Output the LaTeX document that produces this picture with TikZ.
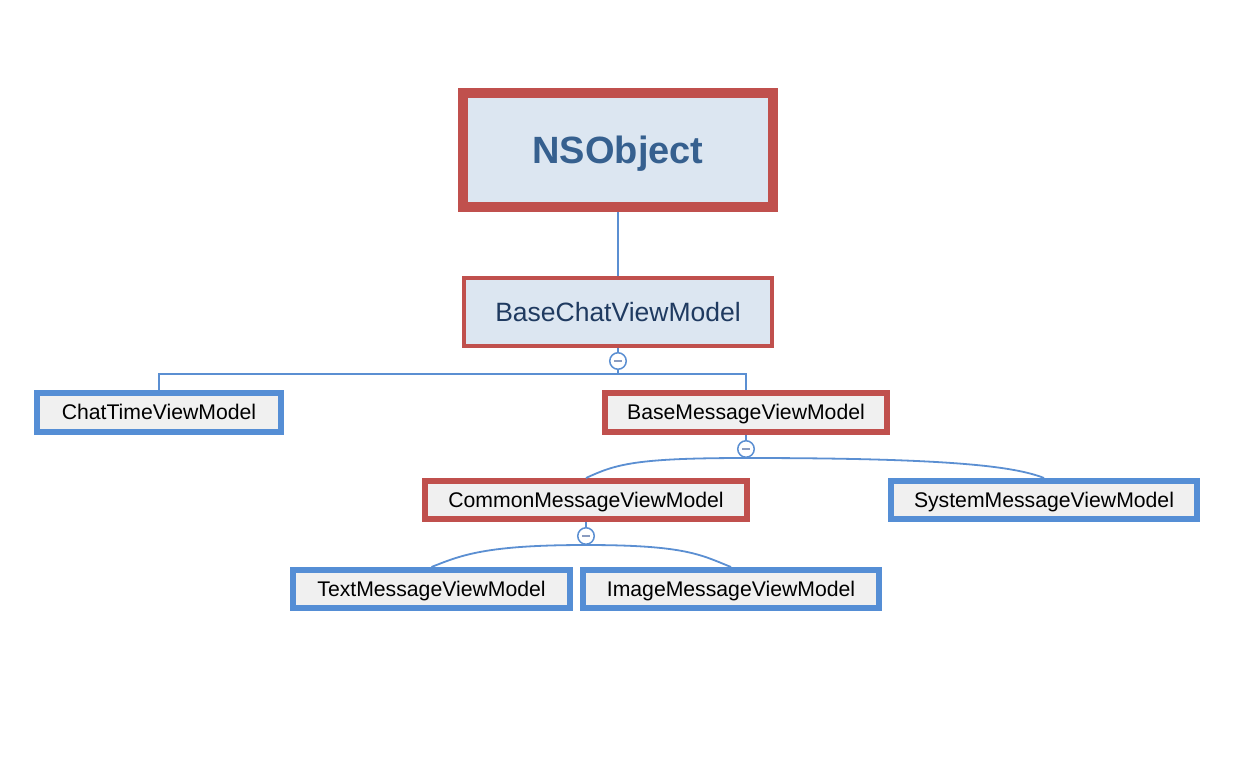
\documentclass[tikz,border=0pt]{standalone}
\usepackage{fontspec}
\setmainfont{Liberation Sans}
\definecolor{boxred}{HTML}{C0504D}
\definecolor{boxblue}{HTML}{558ED5}
\definecolor{boxgray}{HTML}{F0F0F0}
\definecolor{rootfill}{HTML}{DCE6F1}
\definecolor{linkblue}{HTML}{5B8FD2}
\definecolor{minusgray}{HTML}{8A9CC0}
\begin{document}
\begin{tikzpicture}[x=1pt,y=-1pt,
    redbox/.style={draw=boxred, line width=6pt, fill=boxgray, inner sep=0pt,
      text height=16.5pt, text depth=2pt, font=\fontsize{21.2}{25}\selectfont},
    bluebox/.style={redbox, draw=boxblue},
    link/.style={draw=linkblue, line width=1.8pt},
    fold/.style={circle, draw=linkblue, line width=1.5pt, fill=white,
      minimum size=16.5pt, inner sep=0pt,
      path picture={\draw[minusgray, line width=1.6pt]
        ([xshift=-4pt]path picture bounding box.center) --
        ([xshift=4pt]path picture bounding box.center);}}]
  \useasboundingbox[fill=white] (0,0) rectangle (1252,774);
  % classes
  \node[redbox, line width=10pt, fill=rootfill, minimum width=310pt, minimum height=114pt,
    text height=28pt, text depth=2pt, font=\fontsize{38}{44}\selectfont\bfseries]
    (nsobject) at (618,150) {\textcolor[HTML]{36608F}{NSObject}};
  \node[redbox, line width=4pt, fill=rootfill, minimum width=308pt, minimum height=68pt,
    text height=20pt, text depth=2pt, font=\fontsize{26.5}{30}\selectfont] (basechat) at (618,312)
    {\textcolor[HTML]{1F3A60}{BaseChatViewModel}};
  \node[bluebox, minimum width=244pt, minimum height=39pt] (chattime) at (159,412.5) {ChatTimeViewModel};
  \node[redbox, minimum width=282pt, minimum height=39pt] (basemsg) at (746,412.5) {BaseMessageViewModel};
  \node[redbox, minimum width=322pt, minimum height=38pt] (common) at (586,500) {CommonMessageViewModel};
  \node[bluebox, minimum width=306pt, minimum height=38pt] (system) at (1044,500) {SystemMessageViewModel};
  \node[bluebox, minimum width=277pt, minimum height=38pt] (textmsg) at (431.5,589) {TextMessageViewModel};
  \node[bluebox, minimum width=296pt, minimum height=38pt] (imagemsg) at (731,589) {ImageMessageViewModel};
  % fold buttons
  \node[fold] (fold1) at (618,361) {};
  \node[fold] (fold2) at (746,449) {};
  \node[fold] (fold3) at (586,536) {};
  % links
  \draw[link] (nsobject.south) -- (basechat.north);
  \draw[link] (basechat.south) -- (fold1.north);
  \draw[link] (fold1.south) -- ++(0,4) -| (chattime.north);
  \draw[link] (fold1.south) -- ++(0,4) -| (basemsg.north);
  \draw[link] (basemsg.south) -- (fold2.north);
  \draw[link] (fold2.south) .. controls +(-110,0) and +(30,-14) .. (common.north);
  \draw[link] (fold2.south) .. controls +(200,0) and +(-30,-12) .. (system.north);
  \draw[link] (common.south) -- (fold3.north);
  \draw[link] (fold3.south) .. controls +(-100,0) and +(30,-12) .. (textmsg.north);
  \draw[link] (fold3.south) .. controls +(100,0) and +(-30,-12) .. (imagemsg.north);
\end{tikzpicture}
\end{document}
